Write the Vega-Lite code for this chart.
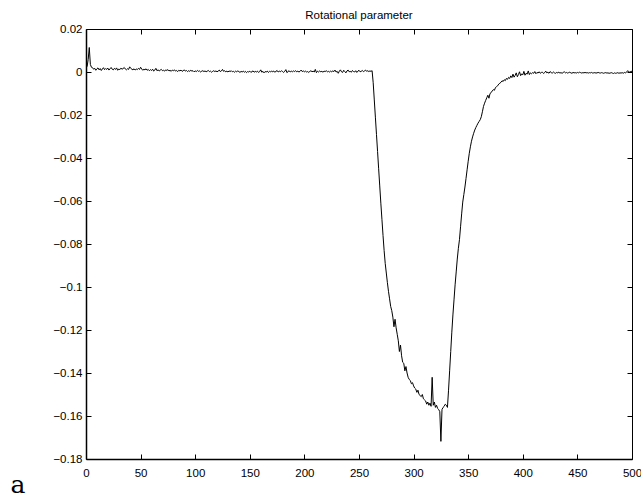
{
"$schema": "https://vega.github.io/schema/vega-lite/v6.json",
"width": 546, "height": 430,
"autosize": {"type": "none"},
"padding": {"left": 86, "top": 29, "right": 9, "bottom": 40},
"background": "white",
"title": {"text": "Rotational parameter", "font": "Liberation Sans", "fontSize": 11.5, "fontWeight": "normal", "color": "black", "anchor": "middle", "frame": "group", "offset": 2},
"config": {"view": {"stroke": null}, "axis": {"grid": false, "domainColor": "black", "tickColor": "black", "labelColor": "black", "labelFont": "Liberation Sans", "labelFontSize": 11.5}},
"data": {"values": [
{"t":0,"v":0.0026},{"t":1,"v":0.0025},{"t":2,"v":0.0058},{"t":3,"v":0.0114},{"t":4,"v":0.0035},{"t":5,"v":0.0022},{"t":6,"v":0.0020},{"t":7,"v":0.0013},{"t":8,"v":0.0017},{"t":9,"v":0.0008},
{"t":10,"v":0.0015},{"t":11,"v":0.0019},{"t":12,"v":0.0010},{"t":13,"v":0.0016},{"t":14,"v":0.0007},{"t":15,"v":0.0014},{"t":16,"v":0.0020},{"t":17,"v":0.0011},{"t":18,"v":0.0016},{"t":19,"v":0.0012},
{"t":20,"v":0.0018},{"t":21,"v":0.0009},{"t":22,"v":0.0015},{"t":23,"v":0.0021},{"t":24,"v":0.0013},{"t":25,"v":0.0010},{"t":26,"v":0.0017},{"t":27,"v":0.0012},{"t":28,"v":0.0019},{"t":29,"v":0.0008},
{"t":30,"v":0.0014},{"t":31,"v":0.0011},{"t":32,"v":0.0018},{"t":33,"v":0.0013},{"t":34,"v":0.0016},{"t":35,"v":0.0021},{"t":36,"v":0.0014},{"t":37,"v":0.0010},{"t":38,"v":0.0015},{"t":39,"v":0.0012},
{"t":40,"v":0.0024},{"t":41,"v":0.0017},{"t":42,"v":0.0013},{"t":43,"v":0.0010},{"t":44,"v":0.0015},{"t":45,"v":0.0009},{"t":46,"v":0.0014},{"t":47,"v":0.0011},{"t":48,"v":0.0017},{"t":49,"v":0.0012},
{"t":50,"v":0.0022},{"t":51,"v":0.0014},{"t":52,"v":0.0008},{"t":53,"v":0.0013},{"t":54,"v":0.0010},{"t":55,"v":0.0015},{"t":56,"v":0.0008},{"t":57,"v":0.0012},{"t":58,"v":0.0006},{"t":59,"v":0.0011},
{"t":60,"v":0.0007},{"t":61,"v":0.0013},{"t":62,"v":0.0004},{"t":63,"v":0.0009},{"t":64,"v":0.0017},{"t":65,"v":0.0006},{"t":66,"v":0.0010},{"t":67,"v":0.0005},{"t":68,"v":0.0009},{"t":69,"v":0.0012},
{"t":70,"v":0.0006},{"t":71,"v":0.0008},{"t":72,"v":0.0004},{"t":73,"v":0.0010},{"t":74,"v":0.0007},{"t":75,"v":0.0011},{"t":76,"v":0.0005},{"t":77,"v":0.0008},{"t":78,"v":0.0003},{"t":79,"v":0.0009},
{"t":80,"v":0.0006},{"t":81,"v":0.0010},{"t":82,"v":0.0004},{"t":83,"v":0.0007},{"t":84,"v":0.0002},{"t":85,"v":0.0008},{"t":86,"v":0.0005},{"t":87,"v":0.0009},{"t":88,"v":0.0003},{"t":89,"v":0.0006},
{"t":90,"v":0.0010},{"t":91,"v":0.0004},{"t":92,"v":0.0007},{"t":93,"v":0.0002},{"t":94,"v":0.0006},{"t":95,"v":0.0003},{"t":96,"v":0.0008},{"t":97,"v":0.0004},{"t":98,"v":0.0006},{"t":99,"v":0.0001},
{"t":100,"v":0.0005},{"t":101,"v":0.0002},{"t":102,"v":0.0007},{"t":103,"v":0.0003},{"t":104,"v":0.0005},{"t":105,"v":0.0000},{"t":106,"v":0.0004},{"t":107,"v":0.0006},{"t":108,"v":0.0002},{"t":109,"v":0.0005},
{"t":110,"v":0.0001},{"t":111,"v":0.0004},{"t":112,"v":0.0007},{"t":113,"v":0.0002},{"t":114,"v":0.0004},{"t":115,"v":-0.0001},{"t":116,"v":0.0003},{"t":117,"v":0.0006},{"t":118,"v":0.0002},{"t":119,"v":0.0005},
{"t":120,"v":0.0001},{"t":121,"v":0.0004},{"t":122,"v":0.0009},{"t":123,"v":0.0002},{"t":124,"v":0.0005},{"t":125,"v":0.0012},{"t":126,"v":0.0003},{"t":127,"v":0.0006},{"t":128,"v":0.0001},{"t":129,"v":0.0004},
{"t":130,"v":0.0000},{"t":131,"v":0.0005},{"t":132,"v":0.0002},{"t":133,"v":0.0006},{"t":134,"v":0.0001},{"t":135,"v":0.0003},{"t":136,"v":-0.0001},{"t":137,"v":0.0004},{"t":138,"v":0.0001},{"t":139,"v":0.0005},
{"t":140,"v":0.0002},{"t":141,"v":-0.0002},{"t":142,"v":0.0003},{"t":143,"v":0.0000},{"t":144,"v":0.0004},{"t":145,"v":-0.0001},{"t":146,"v":0.0003},{"t":147,"v":-0.0003},{"t":148,"v":0.0002},{"t":149,"v":0.0000},
{"t":150,"v":0.0004},{"t":151,"v":-0.0002},{"t":152,"v":0.0002},{"t":153,"v":0.0005},{"t":154,"v":-0.0001},{"t":155,"v":0.0003},{"t":156,"v":0.0000},{"t":157,"v":0.0004},{"t":158,"v":-0.0002},{"t":159,"v":0.0002},
{"t":160,"v":0.0010},{"t":161,"v":-0.0001},{"t":162,"v":0.0003},{"t":163,"v":-0.0004},{"t":164,"v":0.0002},{"t":165,"v":0.0000},{"t":166,"v":0.0004},{"t":167,"v":-0.0002},{"t":168,"v":0.0003},{"t":169,"v":0.0000},
{"t":170,"v":0.0005},{"t":171,"v":0.0001},{"t":172,"v":0.0004},{"t":173,"v":-0.0001},{"t":174,"v":0.0003},{"t":175,"v":0.0007},{"t":176,"v":0.0000},{"t":177,"v":0.0004},{"t":178,"v":0.0001},{"t":179,"v":0.0006},
{"t":180,"v":0.0002},{"t":181,"v":-0.0002},{"t":182,"v":0.0003},{"t":183,"v":0.0011},{"t":184,"v":-0.0003},{"t":185,"v":0.0002},{"t":186,"v":0.0006},{"t":187,"v":0.0000},{"t":188,"v":0.0004},{"t":189,"v":0.0001},
{"t":190,"v":0.0005},{"t":191,"v":0.0002},{"t":192,"v":0.0006},{"t":193,"v":0.0001},{"t":194,"v":0.0004},{"t":195,"v":0.0000},{"t":196,"v":0.0003},{"t":197,"v":0.0009},{"t":198,"v":0.0002},{"t":199,"v":0.0005},
{"t":200,"v":0.0001},{"t":201,"v":0.0004},{"t":202,"v":0.0000},{"t":203,"v":0.0002},{"t":204,"v":-0.0002},{"t":205,"v":0.0003},{"t":206,"v":0.0006},{"t":207,"v":0.0001},{"t":208,"v":0.0004},{"t":209,"v":0.0000},
{"t":210,"v":0.0012},{"t":211,"v":-0.0003},{"t":212,"v":0.0004},{"t":213,"v":0.0000},{"t":214,"v":0.0005},{"t":215,"v":0.0001},{"t":216,"v":0.0003},{"t":217,"v":-0.0001},{"t":218,"v":0.0004},{"t":219,"v":0.0002},
{"t":220,"v":0.0006},{"t":221,"v":0.0001},{"t":222,"v":0.0003},{"t":223,"v":0.0000},{"t":224,"v":0.0004},{"t":225,"v":0.0001},{"t":226,"v":0.0005},{"t":227,"v":0.0002},{"t":228,"v":0.0009},{"t":229,"v":0.0000},
{"t":230,"v":0.0003},{"t":231,"v":-0.0006},{"t":232,"v":0.0004},{"t":233,"v":0.0010},{"t":234,"v":0.0001},{"t":235,"v":-0.0002},{"t":236,"v":0.0008},{"t":237,"v":0.0002},{"t":238,"v":-0.0004},{"t":239,"v":0.0005},
{"t":240,"v":0.0009},{"t":241,"v":0.0001},{"t":242,"v":0.0003},{"t":243,"v":-0.0001},{"t":244,"v":0.0007},{"t":245,"v":0.0002},{"t":246,"v":0.0000},{"t":247,"v":0.0006},{"t":248,"v":-0.0002},{"t":249,"v":0.0004},
{"t":250,"v":0.0008},{"t":251,"v":0.0001},{"t":252,"v":0.0003},{"t":253,"v":0.0007},{"t":254,"v":0.0002},{"t":255,"v":0.0005},{"t":256,"v":0.0009},{"t":257,"v":0.0003},{"t":258,"v":0.0006},{"t":259,"v":0.0002},
{"t":260,"v":0.0005},{"t":261,"v":0.0003},{"t":262,"v":0.0006},{"t":263,"v":-0.0050},{"t":264,"v":-0.0130},{"t":265,"v":-0.0210},{"t":266,"v":-0.0290},{"t":267,"v":-0.0370},{"t":268,"v":-0.0450},{"t":269,"v":-0.0530},
{"t":270,"v":-0.0610},{"t":271,"v":-0.0685},{"t":272,"v":-0.0760},{"t":273,"v":-0.0830},{"t":274,"v":-0.0890},{"t":275,"v":-0.0935},{"t":276,"v":-0.0980},{"t":277,"v":-0.1020},{"t":278,"v":-0.1055},{"t":279,"v":-0.1090},
{"t":280,"v":-0.1110},{"t":281,"v":-0.1140},{"t":282,"v":-0.1185},{"t":283,"v":-0.1150},{"t":284,"v":-0.1190},{"t":285,"v":-0.1220},{"t":286,"v":-0.1250},{"t":287,"v":-0.1300},{"t":288,"v":-0.1270},{"t":289,"v":-0.1320},
{"t":290,"v":-0.1350},{"t":291,"v":-0.1355},{"t":292,"v":-0.1390},{"t":293,"v":-0.1370},{"t":294,"v":-0.1400},{"t":295,"v":-0.1420},{"t":296,"v":-0.1430},{"t":297,"v":-0.1435},{"t":298,"v":-0.1450},{"t":299,"v":-0.1445},
{"t":300,"v":-0.1460},{"t":301,"v":-0.1470},{"t":302,"v":-0.1475},{"t":303,"v":-0.1490},{"t":304,"v":-0.1480},{"t":305,"v":-0.1500},{"t":306,"v":-0.1505},{"t":307,"v":-0.1510},{"t":308,"v":-0.1500},{"t":309,"v":-0.1520},
{"t":310,"v":-0.1525},{"t":311,"v":-0.1530},{"t":312,"v":-0.1545},{"t":313,"v":-0.1535},{"t":314,"v":-0.1550},{"t":315,"v":-0.1540},{"t":316,"v":-0.1555},{"t":317,"v":-0.1420},{"t":318,"v":-0.1550},{"t":319,"v":-0.1535},
{"t":320,"v":-0.1560},{"t":321,"v":-0.1550},{"t":322,"v":-0.1565},{"t":323,"v":-0.1570},{"t":324,"v":-0.1580},{"t":325,"v":-0.1718},{"t":326,"v":-0.1570},{"t":327,"v":-0.1560},{"t":328,"v":-0.1555},{"t":329,"v":-0.1545},
{"t":330,"v":-0.1550},{"t":331,"v":-0.1560},{"t":332,"v":-0.1480},{"t":333,"v":-0.1390},{"t":334,"v":-0.1300},{"t":335,"v":-0.1210},{"t":336,"v":-0.1130},{"t":337,"v":-0.1060},{"t":338,"v":-0.0990},{"t":339,"v":-0.0930},
{"t":340,"v":-0.0870},{"t":341,"v":-0.0820},{"t":342,"v":-0.0780},{"t":343,"v":-0.0720},{"t":344,"v":-0.0660},{"t":345,"v":-0.0605},{"t":346,"v":-0.0570},{"t":347,"v":-0.0535},{"t":348,"v":-0.0495},{"t":349,"v":-0.0455},
{"t":350,"v":-0.0415},{"t":351,"v":-0.0378},{"t":352,"v":-0.0348},{"t":353,"v":-0.0322},{"t":354,"v":-0.0302},{"t":355,"v":-0.0285},{"t":356,"v":-0.0270},{"t":357,"v":-0.0258},{"t":358,"v":-0.0248},{"t":359,"v":-0.0238},
{"t":360,"v":-0.0230},{"t":361,"v":-0.0222},{"t":362,"v":-0.0208},{"t":363,"v":-0.0185},{"t":364,"v":-0.0160},{"t":365,"v":-0.0145},{"t":366,"v":-0.0132},{"t":367,"v":-0.0120},{"t":368,"v":-0.0108},{"t":369,"v":-0.0122},
{"t":370,"v":-0.0100},{"t":371,"v":-0.0096},{"t":372,"v":-0.0088},{"t":373,"v":-0.0082},{"t":374,"v":-0.0085},{"t":375,"v":-0.0072},{"t":376,"v":-0.0068},{"t":377,"v":-0.0064},{"t":378,"v":-0.0056},{"t":379,"v":-0.0052},
{"t":380,"v":-0.0048},{"t":381,"v":-0.0041},{"t":382,"v":-0.0044},{"t":383,"v":-0.0036},{"t":384,"v":-0.0040},{"t":385,"v":-0.0030},{"t":386,"v":-0.0034},{"t":387,"v":-0.0025},{"t":388,"v":-0.0030},{"t":389,"v":-0.0018},
{"t":390,"v":-0.0026},{"t":391,"v":-0.0010},{"t":392,"v":-0.0024},{"t":393,"v":-0.0016},{"t":394,"v":-0.0004},{"t":395,"v":-0.0022},{"t":396,"v":-0.0012},{"t":397,"v":0.0001},{"t":398,"v":-0.0017},{"t":399,"v":-0.0009},
{"t":400,"v":-0.0013},{"t":401,"v":0.0003},{"t":402,"v":-0.0015},{"t":403,"v":-0.0006},{"t":404,"v":-0.0010},{"t":405,"v":0.0005},{"t":406,"v":-0.0012},{"t":407,"v":-0.0004},{"t":408,"v":-0.0008},{"t":409,"v":-0.0003},
{"t":410,"v":-0.0006},{"t":411,"v":0.0002},{"t":412,"v":-0.0008},{"t":413,"v":-0.0002},{"t":414,"v":-0.0005},{"t":415,"v":0.0001},{"t":416,"v":-0.0006},{"t":417,"v":-0.0002},{"t":418,"v":-0.0001},{"t":419,"v":-0.0007},
{"t":420,"v":-0.0003},{"t":421,"v":0.0004},{"t":422,"v":-0.0004},{"t":423,"v":-0.0001},{"t":424,"v":-0.0006},{"t":425,"v":0.0002},{"t":426,"v":-0.0003},{"t":427,"v":-0.0005},{"t":428,"v":0.0000},{"t":429,"v":-0.0004},
{"t":430,"v":-0.0006},{"t":431,"v":-0.0002},{"t":432,"v":-0.0004},{"t":433,"v":-0.0001},{"t":434,"v":-0.0005},{"t":435,"v":-0.0003},{"t":436,"v":-0.0006},{"t":437,"v":-0.0002},{"t":438,"v":0.0001},{"t":439,"v":-0.0004},
{"t":440,"v":-0.0002},{"t":441,"v":-0.0005},{"t":442,"v":-0.0003},{"t":443,"v":-0.0001},{"t":444,"v":-0.0004},{"t":445,"v":-0.0006},{"t":446,"v":-0.0002},{"t":447,"v":-0.0004},{"t":448,"v":-0.0003},{"t":449,"v":-0.0005},
{"t":450,"v":-0.0002},{"t":451,"v":-0.0004},{"t":452,"v":-0.0001},{"t":453,"v":-0.0003},{"t":454,"v":-0.0005},{"t":455,"v":-0.0003},{"t":456,"v":-0.0004},{"t":457,"v":-0.0002},{"t":458,"v":-0.0004},{"t":459,"v":-0.0003},
{"t":460,"v":-0.0005},{"t":461,"v":-0.0003},{"t":462,"v":-0.0004},{"t":463,"v":-0.0002},{"t":464,"v":-0.0005},{"t":465,"v":-0.0004},{"t":466,"v":-0.0003},{"t":467,"v":-0.0005},{"t":468,"v":-0.0004},{"t":469,"v":-0.0002},
{"t":470,"v":-0.0004},{"t":471,"v":-0.0005},{"t":472,"v":-0.0003},{"t":473,"v":-0.0004},{"t":474,"v":-0.0006},{"t":475,"v":-0.0004},{"t":476,"v":-0.0003},{"t":477,"v":-0.0005},{"t":478,"v":-0.0004},{"t":479,"v":-0.0006},
{"t":480,"v":-0.0005},{"t":481,"v":-0.0003},{"t":482,"v":-0.0005},{"t":483,"v":-0.0007},{"t":484,"v":-0.0004},{"t":485,"v":-0.0006},{"t":486,"v":-0.0005},{"t":487,"v":-0.0003},{"t":488,"v":-0.0006},{"t":489,"v":-0.0004},
{"t":490,"v":-0.0005},{"t":491,"v":-0.0003},{"t":492,"v":-0.0006},{"t":493,"v":-0.0002},{"t":494,"v":-0.0004},{"t":495,"v":-0.0001},{"t":496,"v":0.0006},{"t":497,"v":0.0002},{"t":498,"v":-0.0001},{"t":499,"v":0.0003},
{"t":500,"v":0.0003}
]},
"resolve": {"axis": {"x": "independent", "y": "independent"}},
"layer": [
{"mark": {"type": "line", "color": "black", "strokeWidth": 1},
 "encoding": {
  "x": {"field": "t", "type": "quantitative", "scale": {"domain": [0, 500], "nice": false, "zero": false},
   "axis": {"orient": "bottom", "values": [0,50,100,150,200,250,300,350,400,450,500], "tickSize": -5, "labelPadding": 13, "labelBaseline": "top", "domainWidth": 1.5, "labelFlush": false,
    "title": "a", "titleFont": "DejaVu Serif", "titleFontSize": 25, "titleFontWeight": "normal", "titleColor": "black", "titleAnchor": "start", "titleAlign": "left", "titleBaseline": "alphabetic", "titleX": -76, "titleY": 33}},
  "y": {"field": "v", "type": "quantitative", "scale": {"domain": [-0.18, 0.02], "nice": false, "zero": false},
   "axis": {"orient": "left", "values": [0.02,0,-0.02,-0.04,-0.06,-0.08,-0.1,-0.12,-0.14,-0.16,-0.18], "format": ".2~f", "tickSize": -5, "labelPadding": 9, "domainWidth": 1.5, "labelFlush": false, "title": null}}
 }},
{"mark": {"type": "line", "opacity": 0},
 "encoding": {
  "x": {"field": "t", "type": "quantitative", "axis": {"orient": "top", "values": [0,50,100,150,200,250,300,350,400,450,500], "labels": false, "tickSize": -5, "domainWidth": 1, "title": null}},
  "y": {"field": "v", "type": "quantitative", "axis": {"orient": "right", "values": [0.02,0,-0.02,-0.04,-0.06,-0.08,-0.1,-0.12,-0.14,-0.16,-0.18], "labels": false, "tickSize": -5, "domainWidth": 1, "title": null}}
 }}
]
}
